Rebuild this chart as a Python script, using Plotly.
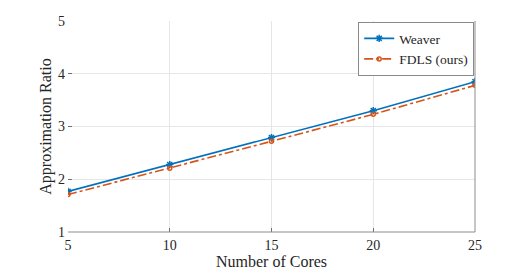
import plotly.graph_objects as go

cores = [5, 10, 15, 20, 25]
weaver = [1.77, 2.28, 2.79, 3.30, 3.85]
fdls = [1.71, 2.21, 2.72, 3.23, 3.78]
x_ticks = [5, 10, 15, 20, 25]
y_ticks = [1, 2, 3, 4, 5]

font_family = "Liberation Serif"

fig = go.Figure()
fig.add_trace(go.Scatter(
    x=cores, y=weaver, name="Weaver", mode="lines+markers",
    line=dict(color="#0072BD", width=1.6),
    marker=dict(symbol="asterisk", size=6, color="#0072BD",
                line=dict(color="#0072BD", width=1.5)),
))
fig.add_trace(go.Scatter(
    x=cores, y=fdls, name="FDLS (ours)", mode="lines+markers",
    line=dict(color="#D95319", width=1.6, dash="dashdot"),
    marker=dict(symbol="circle-open", size=4, color="#D95319",
                line=dict(color="#D95319", width=1.5)),
))

axis_common = dict(
    showgrid=True, gridcolor="#e6e6e6", gridwidth=1,
    ticks="inside", ticklen=4, tickcolor="#707070",
    tickfont=dict(family=font_family, size=14, color="#262626"),
    zeroline=False, showline=False, automargin=False,
)

fig.update_layout(
    width=518, height=263,
    margin=dict(l=60, r=51, t=13, b=39),
    paper_bgcolor="white", plot_bgcolor="white",
    font=dict(family=font_family, color="#262626"),
    showlegend=True,
    legend=dict(
        x=0.998, y=0.995, xanchor="right", yanchor="top",
        bgcolor="white", bordercolor="#8a8a8a", borderwidth=1,
        font=dict(family=font_family, size=13.5, color="#262626"),
        itemwidth=30, tracegroupgap=0,
    ),
)
fig.update_xaxes(
    range=[5, 25], tickvals=x_ticks, **axis_common,
    ticklabelstandoff=3,
    title=dict(text="Number of Cores", font=dict(family=font_family, size=16, color="#262626"), standoff=2),
)
fig.update_yaxes(
    range=[1, 5], tickvals=y_ticks, **axis_common,
    ticklabelstandoff=2,
    title=dict(text="Approximation Ratio", font=dict(family=font_family, size=16, color="#262626"), standoff=2),
)
# bottom and right axis lines
fig.add_shape(type="line", xref="paper", yref="paper", x0=0, x1=1, y0=0, y1=0,
              line=dict(color="#8c8c8c", width=1))
fig.add_shape(type="line", xref="paper", yref="paper", x0=1, x1=1, y0=0, y1=1,
              line=dict(color="#8c8c8c", width=1))

fig.write_html("out.html")
